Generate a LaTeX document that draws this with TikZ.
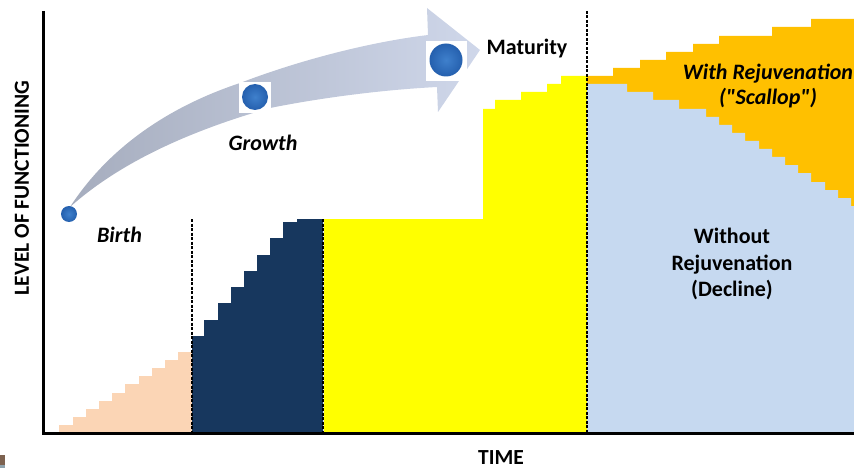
\documentclass[tikz,border=0pt]{standalone}
\usepackage{fontspec}
\defaultfontfeatures[\rmfamily]{}
\setmainfont{Carlito}
\usetikzlibrary{shadings}
\definecolor{peach}{HTML}{FBD5B5}
\definecolor{navy}{HTML}{17375E}
\definecolor{pureyellow}{HTML}{FFFF00}
\definecolor{paleblue}{HTML}{C6D9F0}
\definecolor{amber}{HTML}{FFC000}
\definecolor{swooshdark}{HTML}{A6ADBE}
\definecolor{swooshlight}{HTML}{CFD7EA}
\definecolor{ballinner}{HTML}{3F80CC}
\definecolor{ballouter}{HTML}{2560AE}
\definecolor{cornerbrown}{HTML}{7D6250}
\definecolor{cornergrey}{HTML}{8FA3AE}
\begin{document}
\begin{tikzpicture}[x=1pt,y=-1pt,line width=1pt]
    \tikzstyle{phaseline}=[line width=1.5pt,dash pattern=on 3pt off 1.5pt]
    \tikzstyle{axisline}=[line width=2.2pt]
    \tikzstyle{ball}=[circle,inner sep=0pt,inner color=ballinner,outer color=ballouter]
    \tikzstyle{ballbox}=[fill=white,inner sep=0pt]
    \tikzstyle{phase}=[font=\fontsize{22}{25}\selectfont\bfseries\itshape,align=center]
    \tikzstyle{plain}=[font=\fontsize{22}{26.5}\selectfont\bfseries,align=center]
    \tikzstyle{axislabel}=[font=\fontsize{21.5}{22}\selectfont\bfseries,inner sep=0pt]

    \useasboundingbox (0,0) rectangle (854,468);

    % scrap in the corner
    \fill[cornerbrown] (0,455) rectangle (5,465);
    \fill[cornergrey] (0,465) rectangle (5,468);

    % stages
    \fill[peach] (59,433) |- (73,425) |- (86,417) |- (99,409) |- (112,401) |- (125,393)
        |- (139,384) |- (152,376) |- (165,368) |- (178,360) |- (192,352) -- (192,433) -- cycle;
    \fill[navy] (192,433) |- (204,336) |- (218,320) |- (231,303) |- (244,287) |- (257,271)
        |- (270,255) |- (283,238) |- (297,222) |- (323,219) -- (323,433) -- cycle;
    \fill[pureyellow] (324,433) |- (483,219) |- (495,109) |- (521,100) |- (547,92) |- (561,84)
        |- (587,76) -- (587,433) -- cycle;
    \fill[amber] (587,84) |- (613,76) |- (640,68) |- (666,60) |- (693,52) |- (719,44)
        |- (772,36) |- (811,27) |- (854,19) -- (854,210) -- cycle;
    \fill[paleblue] (587,433) |- (627,84) |- (653,92) |- (679,100) |- (706,109) |- (719,117)
        |- (732,125) |- (745,133) |- (759,141) |- (772,149) |- (785,157) |- (798,165)
        |- (811,173) |- (825,182) |- (838,190) |- (851,198) |- (854,206) -- (854,433) -- cycle;

    % arrow
    \shade[left color=swooshdark,right color=swooshlight]
        (70,207) .. controls (107,150) and (165,108) .. (240,83)
        .. controls (300,60) and (370,42) .. (428,35)
        -- (427,8) -- (480,50) -- (438,112) -- (437,87)
        .. controls (380,90) and (320,98) .. (270,108)
        .. controls (200,128) and (125,158) .. (70,207) -- cycle;

    \node[ballbox,minimum width=41pt,minimum height=40pt] (maturitybox) at (446.5,61) {};
    \node[ballbox,minimum width=32pt,minimum height=31pt] (growthbox) at (255,97.5) {};
    \node[ball,minimum size=33pt] (maturityball) at (446,60) {};
    \node[ball,minimum size=26pt] (growthball) at (255,97) {};
    \node[ball,minimum size=16pt] (birthball) at (69,214) {};

    % axes and stage limits
    \coordinate (origin) at (43.5,433.5);
    \coordinate (ytop) at (43.5,11);
    \coordinate (xend) at (854,433.5);
    \coordinate (birthtop) at (192,219);
    \coordinate (birthbase) at (192,433);
    \coordinate (growthtop) at (323,219);
    \coordinate (growthbase) at (323,433);
    \coordinate (maturitytop) at (587,11);
    \coordinate (maturitybase) at (587,433);
    \draw[phaseline] (birthtop) -- (birthbase);
    \draw[phaseline] (growthtop) -- (growthbase);
    \draw[phaseline] (maturitytop) -- (maturitybase);
    \draw[axisline] (ytop) -- (origin) -- (xend);

    \node[phase] (birthlabel) at (119.5,235) {Birth};
    \node[phase] (growthlabel) at (263,143) {Growth};
    \node[plain] (maturitylabel) at (527,49) {Maturity};
    \node[phase] (withlabel) at (768,86.5) {With Rejuvenation\\("Scallop")};
    \node[plain] (withoutlabel) at (732,264) {Without\\Rejuvenation\\(Decline)};
    \node[axislabel,rotate=90] (ylabel) at (22,188) {LEVEL OF FUNCTIONING};
    \node[axislabel] (xlabel) at (501,457.5) {TIME};
\end{tikzpicture}
\end{document}
